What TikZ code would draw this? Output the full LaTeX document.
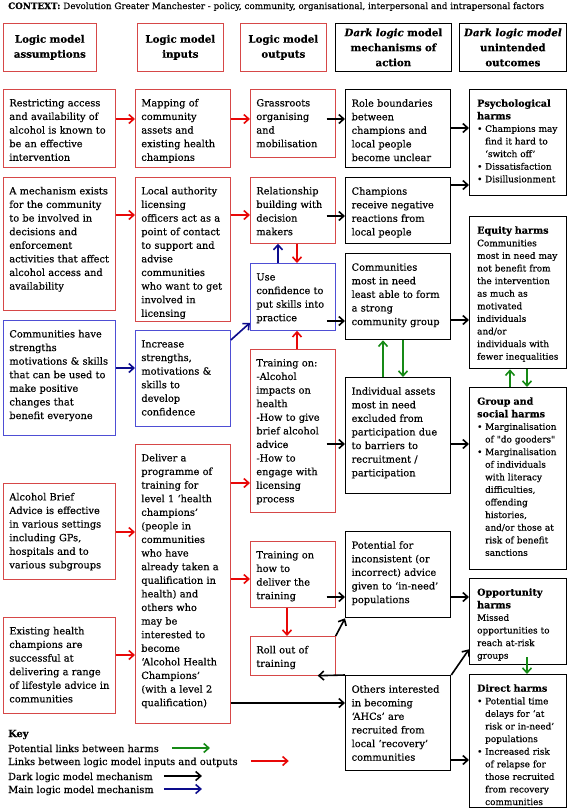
\documentclass[tikz,border=0pt]{standalone}
\usepackage{fontspec}
\setmainfont{DejaVu Serif}[FakeBold=0.4]
\usetikzlibrary{arrows.meta,calc,positioning}
\definecolor{boxred}{RGB}{214,72,72}
\definecolor{arrred}{RGB}{232,8,8}
\definecolor{boxblue}{RGB}{78,78,212}
\definecolor{arrblue}{RGB}{12,12,140}
\definecolor{arrgreen}{RGB}{22,138,22}
\newcommand\bodyfont{\fontsize{9.8}{13.6}\selectfont}
\newcommand\harmfont{\fontsize{8.9}{12.6}\selectfont}
\newcommand\harmhead[1]{\textbf{\fontsize{9.6}{12.6}\selectfont #1}}
\newcommand\boxtext[1]{\begin{tabular}[t]{@{}l@{}}#1\end{tabular}}
\newcommand\itemdot{\makebox[8pt][l]{\textbullet}}
\newcommand\itemgap{\hspace*{8pt}}

\begin{document}
\begin{tikzpicture}[x=1pt, y=-1pt,
  box/.style={draw, anchor=north west, inner xsep=6pt, inner ysep=0pt, text height=17pt, font=\bodyfont},
  ht/.code={\pgfmathsetlengthmacro\boxdepth{#1pt-17pt}\pgfkeysalso{text depth/.expanded=\boxdepth}},
  rbox/.style={box, draw=boxred, line width=0.7pt},
  bbox/.style={box, draw=boxblue, line width=0.8pt},
  kbox/.style={box, line width=1.3pt},
  ubox/.style={kbox, inner xsep=7.5pt, text width=82pt, font=\harmfont},
  colA/.style={text width=100pt},
  colI/.style={text width=83pt},
  colO/.style={text width=73pt},
  colD/.style={text width=93pt},
  head/.style={draw, anchor=north west, align=center, inner xsep=2pt, minimum height=48pt, font=\bfseries\fontsize{10.2}{15}\selectfont},
  arr/.style={line width=1.6pt, -{Straight Barb[length=5pt,width=9pt]}},
  rarr/.style={arr, draw=arrred},
  barr/.style={arr, draw=arrblue},
  karr/.style={arr, draw=black},
  garr/.style={arr, draw=arrgreen},
  tailin/.style={shorten <=-9pt},
  keyline/.style={anchor=base west, inner sep=0pt, font=\bodyfont}]
\useasboundingbox (0,0) rectangle (567,809);

\node[anchor=base west, inner sep=0pt, font=\fontsize{8.8}{12}\selectfont] (ctx) at (8,9)
  {\textbf{CONTEXT:} Devolution Greater Manchester - policy, community, organisational, interpersonal and intrapersonal factors};

% column headings
\node[head, draw=boxred, line width=0.7pt, text width=89pt] (hA) at (3,23) {Logic model\\assumptions};
\node[head, draw=boxred, line width=0.7pt, text width=82pt] (hI) at (137,23) {Logic model\\inputs};
\node[head, draw=boxred, line width=0.7pt, text width=82pt] (hO) at (240,23) {Logic model\\outputs};
\node[head, line width=0.8pt, text width=112pt] (hD) at (335,23) {\textit{Dark logic} model\\mechanisms of\\action};
\node[head, line width=0.8pt, text width=103pt] (hU) at (459,23) {\textit{Dark logic model}\\unintended\\outcomes};

% assumptions
\node[rbox, colA, ht=78] (A1) at (3,89) {\boxtext{Restricting access\\and availability of\\alcohol is known to\\be an effective\\intervention}};
\node[rbox, colA, ht=133] (A2) at (3,177) {\boxtext{A mechanism exists\\for the community\\to be involved in\\decisions and\\enforcement\\activities that affect\\alcohol access and\\availability}};
\node[bbox, colA, ht=115] (A3) at (3,320) {\boxtext{Communities have\\strengths\\motivations \& skills\\that can be used to\\make positive\\changes that\\benefit everyone}};
\node[rbox, colA, ht=96] (A4) at (3,483) {\boxtext{Alcohol Brief\\Advice is effective\\in various settings\\including GPs,\\hospitals and to\\various subgroups}};
\node[rbox, colA, ht=96] (A5) at (3,617) {\boxtext{Existing health\\champions are\\successful at\\delivering a range\\of lifestyle advice in\\communities}};

% inputs
\node[rbox, colI, ht=78] (I1) at (135,89) {\boxtext{Mapping of\\community\\assets and\\existing health\\champions}};
\node[rbox, colI, ht=144] (I2) at (135,177) {\boxtext{Local authority\\licensing\\officers act as a\\point of contact\\to support and\\advise\\communities\\who want to get\\involved in\\licensing}};
\node[bbox, colI, ht=96] (I3) at (135,330) {\boxtext{Increase\\strengths,\\motivations \&\\skills to\\develop\\confidence}};
\node[rbox, colI, ht=279] (I4) at (135,444) {\boxtext{Deliver a\\programme of\\training for\\level 1 ‘health\\champions’\\(people in\\communities\\who have\\already taken a\\qualification in\\health) and\\others who\\may be\\interested to\\become\\‘Alcohol Health\\Champions’\\(with a level 2\\qualification)}};

% outputs
\node[rbox, colO, ht=68] (O1) at (250,89) {\boxtext{Grassroots\\organising\\and\\mobilisation}};
\node[rbox, colO, ht=66] (O2) at (250,177) {\boxtext{Relationship\\building with\\decision\\makers}};
\node[bbox, colO, ht=67] (O3) at (250,263) {\boxtext{Use\\confidence to\\put skills into\\practice}};
\node[rbox, colO, ht=163] (O4) at (250,349) {\boxtext{Training on:\\-Alcohol\\impacts on\\health\\-How to give\\brief alcohol\\advice\\-How to\\engage with\\licensing\\process}};
\node[rbox, colO, ht=66] (O5) at (250,541) {\boxtext{Training on\\how to\\deliver the\\training}};
\node[rbox, colO, ht=39] (O6) at (250,636) {\boxtext{Roll out of\\training}};

% dark logic mechanisms
\node[kbox, colD, ht=78] (D1) at (345,89) {\boxtext{Role boundaries\\between\\champions and\\local people\\become unclear}};
\node[kbox, colD, ht=66] (D2) at (345,177) {\boxtext{Champions\\receive negative\\reactions from\\local people}};
\node[kbox, colD, ht=86] (D3) at (345,253) {\boxtext{Communities\\most in need\\least able to form\\a strong\\community group}};
\node[kbox, colD, ht=116] (D4) at (345,377) {\boxtext{Individual assets\\most in need\\excluded from\\participation due\\to barriers to\\recruitment /\\participation}};
\node[kbox, colD, ht=86] (D5) at (345,531) {\boxtext{Potential for\\inconsistent (or\\incorrect) advice\\given to ‘in-need’\\populations}};
\node[kbox, colD, ht=95] (D6) at (345,675) {\boxtext{Others interested\\in becoming\\‘AHCs’ are\\recruited from\\local ‘recovery’\\communities}};

% unintended outcomes
\node[ubox, ht=106] (U1) at (469,89) {\boxtext{\harmhead{Psychological}\\\harmhead{harms}\\\itemdot Champions may\\\itemgap find it hard to\\\itemgap ‘switch off’\\\itemdot Dissatisfaction\\\itemdot Disillusionment}};
\node[ubox, ht=152] (U2) at (469,216) {\boxtext{\harmhead{Equity harms}\\Communities\\most in need may\\not benefit from\\the intervention\\as much as\\motivated\\individuals\\and/or\\individuals with\\fewer inequalities}};
\node[ubox, ht=182] (U3) at (469,387) {\boxtext{\harmhead{Group and}\\\harmhead{social harms}\\\itemdot Marginalisation\\\itemgap of \textquotedbl do gooders\textquotedbl\\\itemdot Marginalisation\\\itemgap of individuals\\\itemgap with literacy\\\itemgap difficulties,\\\itemgap offending\\\itemgap histories,\\\itemgap and/or those at\\\itemgap risk of benefit\\\itemgap sanctions}};
\node[ubox, ht=86] (U4) at (469,578) {\boxtext{\harmhead{Opportunity}\\\harmhead{harms}\\Missed\\opportunities to\\reach at-risk\\groups}};
\node[ubox, ht=133] (U5) at (469,674) {\boxtext{\harmhead{Direct harms}\\\itemdot Potential time\\\itemgap delays for ‘at\\\itemgap risk or in-need’\\\itemgap populations\\\itemdot Increased risk\\\itemgap of relapse for\\\itemgap those recruited\\\itemgap from recovery\\\itemgap communities}};

% links between inputs and outputs
\draw[rarr] ($(A1.north east)+(0,30)$) coordinate (p) -- (p -| I1.west);
\draw[rarr] ($(I1.north east)+(0,30)$) coordinate (p) -- (p -| O1.west);
\draw[rarr] ($(A2.north east)+(0,38)$) coordinate (p) -- (p -| I2.west);
\draw[rarr] ($(I2.north east)+(0,38)$) coordinate (p) -- (p -| O2.west);
\draw[rarr] ($(O2.south west)+(47,0)$) -- ($(O3.north west)+(47,0)$);
\draw[rarr] ($(O4.north west)+(47,0)$) -- ($(O3.south west)+(47,0)$);
\draw[rarr] ($(I4.north east)+(0,39)$) coordinate (p) -- (p -| O4.west);
\draw[rarr] ($(A4.north east)+(0,49)$) coordinate (p) -- (p -| I4.west);
\draw[rarr] ($(A5.north east)+(0,38)$) coordinate (p) -- (p -| I4.west);
\draw[rarr] ($(I4.north east)+(0,135)$) coordinate (p) -- (p -| O5.west);
\draw[rarr] ($(O5.south west)+(37,0)$) -- ($(O6.north west)+(37,0)$);

% main mechanism
\draw[barr] ($(A3.north east)+(0,48)$) coordinate (p) -- (p -| I3.west);
\draw[barr] ($(I3.north east)+(0,10)$) -- ($(O3.south west)+(0,-8)$);
\draw[barr] ($(O3.north west)+(28,0)$) -- ($(O2.south west)+(28,0)$);

% dark logic mechanism
\draw[karr, tailin] ($(O1.north east)+(0,30)$) coordinate (p) -- (p -| D1.west);
\draw[karr] ($(D1.north east)+(0,39)$) coordinate (p) -- (p -| U1.west);
\draw[karr, tailin] ($(O2.north east)+(0,39)$) coordinate (p) -- (p -| D2.west);
\draw[karr] ($(D2.north east)+(0,8)$) coordinate (p) -- (p -| U1.west);
\draw[karr, tailin] ($(O3.north east)+(0,58)$) coordinate (p) -- (p -| D3.west);
\draw[karr] ($(D3.north east)+(0,67)$) coordinate (p) -- (p -| U2.west);
\draw[karr, tailin] ($(O4.north east)+(0,95)$) coordinate (p) -- (p -| D4.west);
\draw[karr] ($(D4.north east)+(0,67)$) coordinate (p) -- (p -| U3.west);
\draw[karr, tailin] ($(O5.north east)+(0,56)$) coordinate (p) -- (p -| D5.west);
\draw[karr] ($(D5.north east)+(0,66)$) coordinate (p) -- (p -| U4.west);
\draw[karr] (O6.north east) -- (D5.south west);
\draw[karr] (D6.north west) -- ($(O6.south east)+(-18,0)$);
\draw[karr] ($(I4.north east)+(0,259)$) coordinate (p) -- (p -| D6.west);
\draw[karr] (D6.north east) -- ($(U4.south west)+(0,-16)$);
\draw[karr] ($(D6.north east)+(0,85)$) coordinate (p) -- (p -| U5.west);

% links between harms
\draw[garr] ($(D4.north west)+(38,0)$) -- ($(D3.south west)+(38,0)$);
\draw[garr] ($(D3.south west)+(58,0)$) -- ($(D4.north west)+(58,0)$);
\draw[garr] ($(U3.north west)+(41,0)$) -- ($(U2.south west)+(41,0)$);
\draw[garr] ($(U2.south west)+(58,0)$) -- ($(U3.north west)+(58,0)$);
\draw[garr] ($(U4.south west)+(58,-8)$) -- ($(U5.north west)+(58,0)$);

% key
\node[keyline, font=\bodyfont\bfseries] (k0) at (8,737) {Key};
\node[keyline] (k1) at (8,752) {Potential links between harms};
\node[keyline] (k2) at (8,765) {Links between logic model inputs and outputs};
\node[keyline] (k3) at (8,780) {Dark logic model mechanism};
\node[keyline] (k4) at (8,793) {Main logic model mechanism};
\draw[garr] ($(k1.base east)+(13,-4)$) -- +(38,0);
\draw[rarr] ($(k2.base east)+(13,-4)$) -- +(38,0);
\draw[karr] ($(k3.base east)+(11,-4)$) -- +(38,0);
\draw[barr] ($(k4.base east)+(10,-4)$) -- +(38,0);
\end{tikzpicture}
\end{document}
